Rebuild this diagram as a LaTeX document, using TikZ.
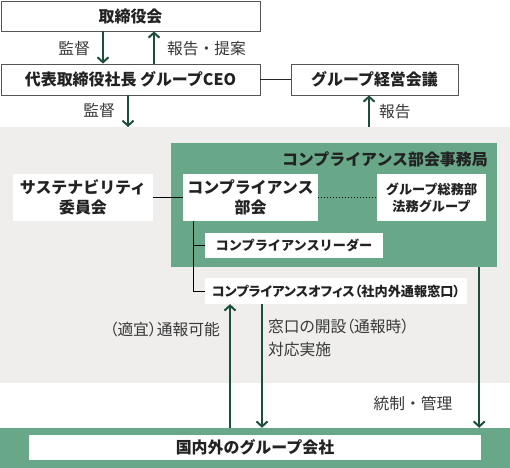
\documentclass[tikz,border=0pt]{standalone}
\usepackage{fontspec}
\setmainfont{Noto Sans CJK JP}
\newfontfamily\jpp[RawFeature=+palt]{Noto Sans CJK JP}
\usetikzlibrary{arrows.meta}
\definecolor{bggray}{HTML}{EFEEEC}
\definecolor{midgreen}{HTML}{68A788}
\definecolor{darkgreen}{HTML}{1C4F3B}
\definecolor{boxline}{HTML}{555555}
\definecolor{txt}{HTML}{222222}
\tikzset{
  wbox/.style={draw=boxline, line width=0.8bp, fill=white, inner sep=0pt, text=txt, font=\fontsize{16}{20}\selectfont\bfseries, align=center},
  plainbox/.style={fill=white, inner sep=0pt, text=txt, font=\fontsize{16}{20}\selectfont\bfseries, align=center},
  smallbox/.style={fill=white, inner sep=0pt, text=txt, font=\fontsize{13.2}{17}\selectfont\bfseries, align=center},
  lbl/.style={inner sep=0pt, text=txt!90, font=\fontsize{15.8}{23}\selectfont, align=left},
  arr/.style={draw=darkgreen, line width=2bp, -{Straight Barb[length=5bp,width=11bp]}},
  tree/.style={draw=black, line width=1bp},
}
\begin{document}
\begin{tikzpicture}[x=1bp,y=-1bp]
\useasboundingbox (0,0) rectangle (510,468);
% backgrounds
\fill[bggray] (0,127) rectangle (510,383);
\node[fill=midgreen, inner sep=0pt, minimum width=326bp, minimum height=124bp] (sec) at (334,205) {};
\node[fill=midgreen, inner sep=0pt, minimum width=510bp, minimum height=40bp] (band) at (255,448) {};
\node[inner sep=0pt, anchor=east, text=txt, font=\fontsize{16}{20}\selectfont\bfseries] (sectitle) at (488,159) {コンプライアンス部会事務局};
% boxes
\node[wbox, minimum width=259bp, minimum height=30bp] (board) at (130.5,16) {取締役会};
\node[wbox, minimum width=259bp, minimum height=31bp] (ceo) at (130.5,79.5) {代表取締役社長 グループCEO};
\node[wbox, minimum width=167bp, minimum height=31bp] (gmc) at (374.5,79.5) {グループ経営会議};
\node[plainbox, minimum width=140bp, minimum height=47bp] (sust) at (83,197.5) {サステナビリティ\\委員会};
\node[plainbox, minimum width=135bp, minimum height=47bp] (cb) at (250.5,197.5) {コンプライアンス\\部会};
\node[smallbox, minimum width=109bp, minimum height=47bp] (legal) at (431.5,197.5) {グループ総務部\\法務グループ};
\node[smallbox, minimum width=178bp, minimum height=25bp] (leader) at (294,245.5) {コンプライアンスリーダー};
\node[smallbox, minimum width=262bp, minimum height=26bp] (office) at (336,291) {\jpp\bfseries コンプライアンスオフィス（社内外通報窓口）};
\node[plainbox, minimum width=452bp, minimum height=25bp] (group) at (255,447.5) {国内外のグループ会社};
% connectors
\draw[tree, draw=black!85] (ceo.east) -- (gmc.west);
\draw[tree] (sust.east) -- (cb.west);
\draw[tree, dotted] (cb.east) -- (legal.west);
\coordinate (tr) at ([xshift=-57.5bp]cb.south);
\draw[tree] (tr) |- (office.west);
\draw[tree] (tr |- leader.west) -- (leader.west);
% arrows
\draw[arr] ([xshift=-27.5bp]board.south) -- ([xshift=-27.5bp]ceo.north);
\draw[arr] ([xshift=23.5bp]ceo.north) -- ([xshift=23.5bp]board.south);
\coordinate (grayTopL) at (128,127);
\coordinate (grayTopR) at (369,127);
\draw[arr] (ceo.south -| grayTopL) -- (grayTopL);
\draw[arr] (grayTopR) -- (gmc.south -| grayTopR);
\draw[arr] ([xshift=-18bp]sec.south east) -- ([xshift=-18bp]sec.south east |- band.north);
\draw[arr] ([xshift=-106bp]office.south |- band.north) -- ([xshift=-106bp]office.south);
\draw[arr] ([xshift=-74bp]office.south) -- ([xshift=-74bp]office.south |- band.north);
% labels
\node[lbl] (l1) at (74,49) {監督};
\node[lbl, anchor=west] (l2) at (167,49) {報告・提案};
\node[lbl] (l3) at (99,111) {監督};
\node[lbl, anchor=west] (l4) at (379,112) {報告};
\node[lbl, anchor=east, font=\fontsize{15.8}{23}\selectfont\jpp] (l5) at (220,330) {（適宜）通報可能};
\node[lbl, anchor=north west, font=\fontsize{15.8}{23}\selectfont\jpp] (l6) at (268,319) {窓口の開設（通報時）\\対応実施};
\node[lbl] (l7) at (413,404) {統制・管理};
\end{tikzpicture}
\end{document}
